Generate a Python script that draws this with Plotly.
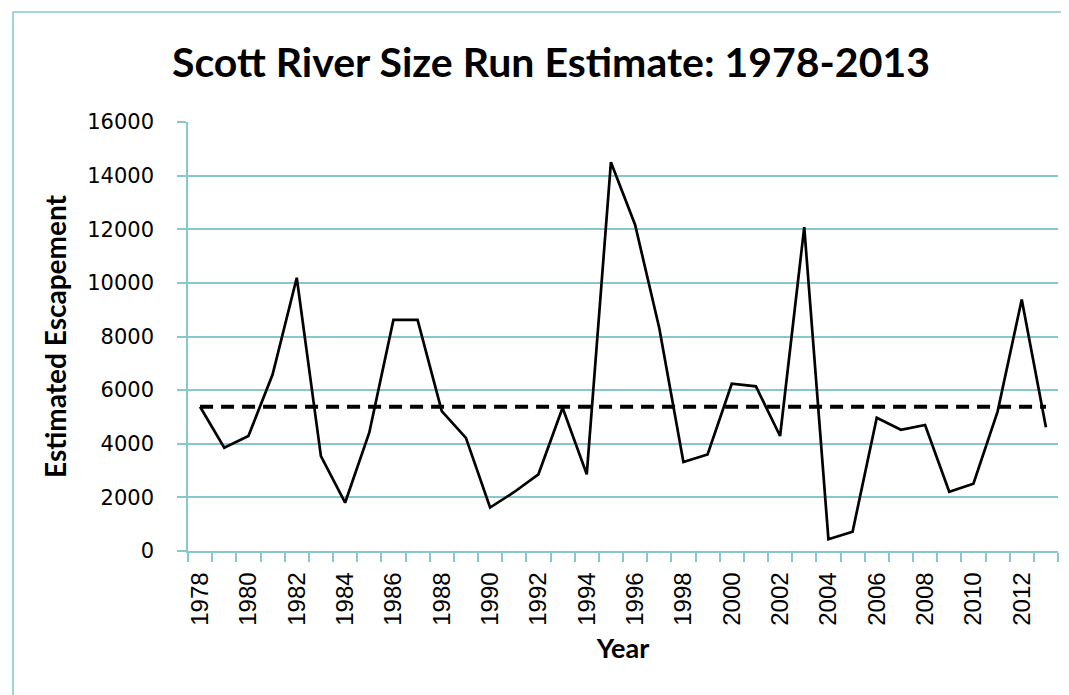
import plotly.graph_objects as go

years = list(range(1978, 2014))
escapement = [5380, 3850, 4290, 6580, 10190, 3540, 1800, 4410, 8620, 8620,
              5220, 4220, 1620, 2200, 2860, 5340, 2860, 14500, 12170, 8320,
              3320, 3600, 6240, 6140, 4290, 12080, 440, 720, 4970, 4520,
              4700, 2210, 2510, 5200, 9380, 4620]
average = [5380, 5380]
average_years = [1978, 2013]
x_tick_vals = list(range(1978, 2013, 2))
x_tick_labels = [str(y) for y in x_tick_vals]
y_tick_vals = list(range(0, 16001, 2000))
y_tick_labels = [str(v) for v in y_tick_vals]

TEAL = "#86c9cc"

fig = go.Figure()
fig.add_trace(go.Scatter(x=years, y=escapement, mode="lines",
                         line=dict(color="black", width=2.7), showlegend=False))
fig.add_trace(go.Scatter(x=average_years, y=average, mode="lines",
                         line=dict(color="black", width=3.8, dash="13px,8px"),
                         showlegend=False))

W, H = 1069, 695
L, R, T, B = 180, 19, 114, 152
pw, ph = W - L - R, H - T - B

fig.update_layout(
    width=W, height=H,
    margin=dict(l=L, r=R, t=T, b=B),
    paper_bgcolor="white", plot_bgcolor="white",
    title=dict(text="<b>Scott River Size Run Estimate: 1978-2013</b>",
               font=dict(family="Lato", size=41, color="black"),
               x=543 / W, xanchor="center", y=1 - 55 / H, yanchor="middle"),
    shapes=[dict(type="rect", xref="paper", yref="paper",
                 x0=(5 - L) / pw, x1=(1065 - L) / pw,
                 y0=(H - B - 692) / ph, y1=(H - B - 4) / ph,
                 line=dict(color=TEAL, width=1.5), layer="below")],
)

fig.update_xaxes(
    range=[1977.5, 2013.5],
    tickmode="array",
    tickvals=x_tick_vals,
    ticktext=x_tick_labels,
    tickangle=-90,
    ticks="",
    tickfont=dict(family="Liberation Sans", size=24, color="black"),
    ticklabelstandoff=10,
    showgrid=False,
    showline=True, linecolor=TEAL, linewidth=1.5,
    zeroline=False,
    minor=dict(ticks="outside", tick0=1977.5, dtick=1, ticklen=9,
               tickcolor=TEAL, tickwidth=1.5, showgrid=False),
    title=dict(text="<b>Year</b>", font=dict(family="Lato", size=27, color="black"),
               standoff=14),
)

fig.update_yaxes(
    range=[0, 16000],
    tickmode="array",
    tickvals=y_tick_vals,
    ticktext=y_tick_labels,
    ticks="outside", ticklen=9, tickcolor=TEAL, tickwidth=1.5,
    tickfont=dict(family="DejaVu Sans", size=21, color="black"),
    ticklabelstandoff=19,
    showgrid=True, gridcolor=TEAL, gridwidth=1.5,
    showline=True, linecolor=TEAL, linewidth=1.5,
    zeroline=False,
    title=dict(text="<b>Estimated Escapement</b>",
               font=dict(family="Lato", size=28, color="black"), standoff=12),
)

fig.write_html("out.html")
